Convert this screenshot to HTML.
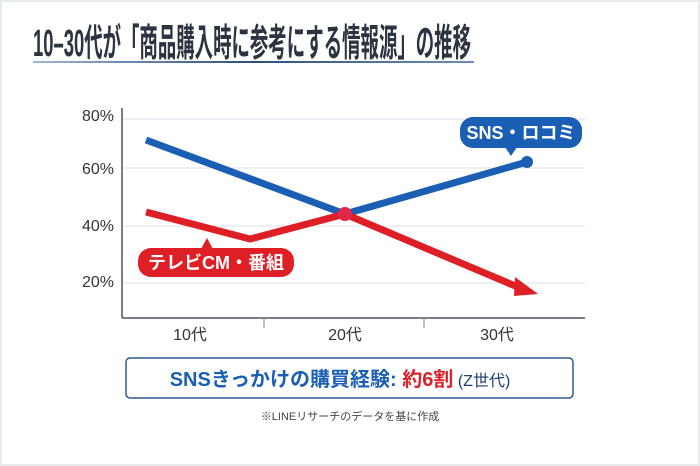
<!DOCTYPE html>
<html><head><meta charset="utf-8"><style>
body{margin:0;width:700px;height:466px;background:#fff;overflow:hidden;font-family:"Liberation Sans","Noto Sans CJK JP",sans-serif;}
.frame{position:absolute;left:0;top:0;width:696px;height:462px;border:2px solid #e8ecef;}
</style></head><body>
<div class="frame"></div>
<svg width="700" height="466" style="position:absolute;left:0;top:0" font-family="Liberation Sans, Noto Sans CJK JP, sans-serif">
<defs><linearGradient id="ul" x1="0" x2="1"><stop offset="0" stop-color="#9fb6d3"/><stop offset="0.5" stop-color="#2c4f80"/><stop offset="1" stop-color="#6f8fb8"/></linearGradient></defs>
<g transform="translate(33,56) scale(1,1.35)">
<text x="0" y="0" font-size="28" font-weight="bold" fill="#2b3440" textLength="438" lengthAdjust="spacingAndGlyphs">10–30代が「商品購入時に参考にする情報源」の推移</text>
</g>
<rect x="33" y="61" width="441" height="2" fill="url(#ul)"/>
<g stroke="#dde2e8" stroke-width="1">
<line x1="122" y1="119" x2="585" y2="119"/><line x1="122" y1="168" x2="585" y2="168"/><line x1="122" y1="226" x2="585" y2="226"/><line x1="122" y1="283" x2="585" y2="283"/>
</g>
<line x1="122" y1="108" x2="122" y2="318" stroke="#4a5563" stroke-width="1.5"/>
<line x1="122" y1="318" x2="585" y2="318" stroke="#4a5563" stroke-width="1.5"/>
<line x1="264" y1="318" x2="264" y2="328" stroke="#888" stroke-width="1"/>
<line x1="424" y1="318" x2="424" y2="328" stroke="#888" stroke-width="1"/>
<g font-size="16" fill="#333" text-anchor="end">
<text x="114" y="121">80%</text><text x="114" y="174">60%</text><text x="114" y="231">40%</text><text x="114" y="287">20%</text>
</g>
<g font-size="16" fill="#333" text-anchor="middle">
<text x="190" y="340">10代</text><text x="345" y="340">20代</text><text x="497" y="340">30代</text>
</g>
<polyline points="146,140 345,214 527,162" fill="none" stroke="#1a5fb4" stroke-width="7" stroke-linejoin="round"/>
<circle cx="527" cy="162" r="6" fill="#1a5fb4"/>
<polyline points="146,212 250,239 345,214 520,288" fill="none" stroke="#df1f26" stroke-width="7" stroke-linejoin="round"/>
<polygon points="515,277 538,294 514,296" fill="#df1f26"/>
<circle cx="345" cy="214" r="7" fill="#e1264a"/>
<rect x="460" y="117" width="122" height="31" rx="13" fill="#1a5fb4"/>
<polygon points="505,147 517,147 511,156" fill="#1a5fb4"/>
<text x="521" y="139" font-size="18" font-weight="bold" fill="#fff" text-anchor="middle">SNS・ロコミ</text>
<rect x="138" y="248" width="156" height="29" rx="13" fill="#df1f26"/>
<polygon points="201,249 213,249 207,238" fill="#df1f26"/>
<text x="216" y="269" font-size="18" font-weight="bold" fill="#fff" text-anchor="middle">テレビCM・番組</text>
<rect x="126" y="358" width="447" height="40" rx="4" fill="#fff" stroke="#2d5a94" stroke-width="1.5"/>
<text x="340" y="386" font-size="20" font-weight="bold" fill="#1a5fb4" text-anchor="middle">SNSきっかけの購買経験: <tspan fill="#d9222a">約6割</tspan><tspan font-size="16" font-weight="normal" fill="#1f3f6e"> (Z世代)</tspan></text>
<text x="350" y="420" font-size="11" fill="#444" text-anchor="middle">※LINEリサーチのデータを基に作成</text>
</svg>
</body></html>
